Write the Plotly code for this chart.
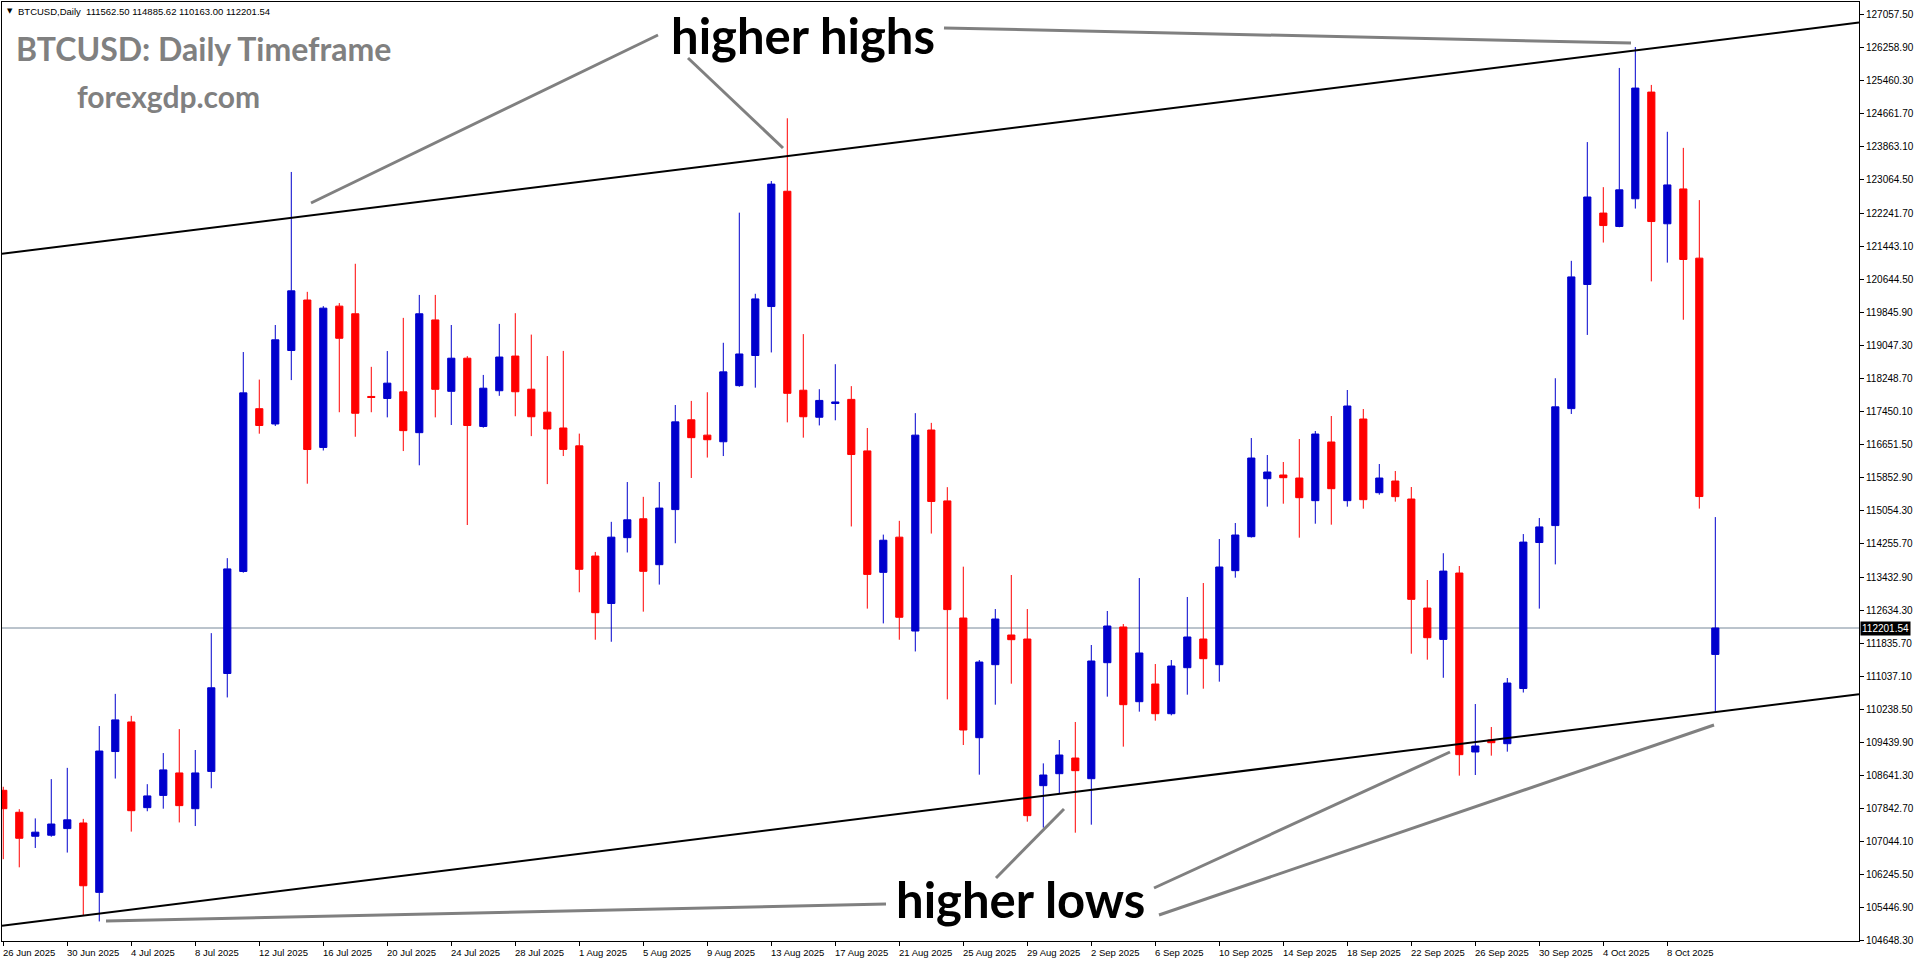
import plotly.graph_objects as go
import pandas as pd

# ---------------- data ----------------
start_date = "2025-06-26"

opens = [108274, 107742, 107162, 107187, 107347, 107483, 105804, 109212, 109928, 107854,
         108150, 108694, 107829, 108731, 111101, 113570, 117509, 117139, 118917, 120139,
         116571, 119991, 119806, 117805, 117756, 117917, 116929, 119657, 117929, 118731,
         117079, 117944, 118783, 117981, 117425, 117042, 116610, 113943, 112795, 114388,
         114845, 113734, 115067, 117240, 116869, 116709, 118067, 118796, 119981, 122771,
         117956, 117302, 117635, 117734, 116487, 113548, 114400, 112128, 116993, 115277,
         112443, 109547, 111314, 112032, 111935, 108386, 108676, 109055, 108555, 111362,
         112226, 110418, 110846, 110128, 111241, 111935, 111314, 113589, 114412, 115815,
         115904, 115831, 115283, 116703, 115283, 117259, 115476, 115759, 115323, 112685,
         111926, 113532, 109201, 109491, 109402, 110737, 114270, 114680, 117511, 120515,
         122243, 121919, 122589, 125171, 121984, 122827, 121152, 111562.50]
highs = [108360, 107817, 107594, 108545, 108817, 107582, 109829, 110607, 110076, 108422,
         109175, 109755, 109249, 112077, 113892, 118880, 118213, 119534, 123238, 120337,
         119991, 120065, 121016, 118522, 118904, 119707, 120262, 120262, 119534, 118781,
         118326, 119561, 119820, 119302, 118783, 118907, 116906, 114042, 114771, 115734,
         115376, 115734, 117598, 117697, 117907, 119104, 122253, 120290, 123018, 124537,
         119314, 117981, 118586, 118055, 117042, 114462, 114795, 117401, 117166, 115610,
         113686, 111427, 112661, 113484, 112661, 108926, 109491, 109927, 111790, 112613,
         112298, 113411, 111330, 111427, 112952, 113290, 114355, 114742, 116799, 116388,
         116219, 116775, 116969, 117332, 117961, 117501, 116170, 116001, 115614, 113363,
         114011, 113702, 110362, 109806, 110991, 114475, 114864, 118246, 121087, 123961,
         122870, 125755, 126262, 125344, 124210, 123821, 122557, 114885.62]
lows = [106607, 106410, 106878, 107150, 106767, 105248, 105100, 108558, 107274, 107767,
        107829, 107496, 107409, 108323, 110521, 113540, 116904, 117090, 118201, 115694,
        116497, 117423, 116830, 117423, 117299, 116484, 116139, 117299, 117114, 114694,
        117050, 117820, 117326, 116845, 115684, 116363, 113066, 111918, 111869, 114029,
        112597, 113252, 114252, 115832, 116326, 116363, 118040, 118018, 118870, 117178,
        116808, 117104, 117228, 114659, 112671, 112313, 111918, 111634, 114487, 110474,
        109370, 108652, 110346, 110854, 107515, 107369, 108200, 107248, 107442, 110540,
        109330, 110177, 109959, 110088, 110588, 110733, 110903, 113420, 114390, 115138,
        115210, 114387, 114726, 114702, 115138, 115089, 115428, 115259, 111580, 111435,
        110997, 108628, 108644, 109112, 109209, 110640, 112671, 113741, 117381, 119294,
        121530, 121900, 122352, 120590, 121044, 119661, 115091, 110163.00]
closes = [107829, 107113, 107261, 107458, 107559, 105964, 109224, 109978, 107780, 108138,
          108768, 107903, 108694, 110755, 113632, 117892, 117102, 119176, 120361, 116521,
          119942, 119213, 117398, 117781, 118127, 116978, 119806, 117978, 118731, 117102,
          118005, 118759, 117919, 117314, 117018, 116524, 113622, 112572, 114400, 114820,
          113573, 115104, 117190, 116808, 116758, 118400, 118833, 120166, 122944, 117881,
          117314, 117709, 117672, 116400, 113499, 114326, 112461, 116869, 115264, 112647,
          109733, 111378, 112419, 111919, 107660, 108644, 109128, 108749, 111403, 112250,
          110346, 111597, 110128, 111282, 111984, 111459, 113678, 114452, 116315, 115977,
          115839, 115355, 116896, 115573, 117574, 115307, 115831, 115380, 112895, 111967,
          113579, 109136, 109346, 109426, 110870, 114281, 114648, 117554, 120698, 122632,
          121941, 122805, 125268, 122038, 122924, 121120, 115383, 112201.54]

last_price = 112201.54
header_text = "BTCUSD,Daily  111562.50 114885.62 110163.00 112201.54"

y_tick_values = [127057.50, 126258.90, 125460.30, 124661.70, 123863.10, 123064.50,
                 122241.70, 121443.10, 120644.50, 119845.90, 119047.30, 118248.70,
                 117450.10, 116651.50, 115852.90, 115054.30, 114255.70, 113432.90,
                 112634.30, 111835.70, 111037.10, 110238.50, 109439.90, 108641.30,
                 107842.70, 107044.10, 106245.50, 105446.90, 104648.30]

x_tick_labels = ["26 Jun 2025", "30 Jun 2025", "4 Jul 2025", "8 Jul 2025", "12 Jul 2025",
                 "16 Jul 2025", "20 Jul 2025", "24 Jul 2025", "28 Jul 2025", "1 Aug 2025",
                 "5 Aug 2025", "9 Aug 2025", "13 Aug 2025", "17 Aug 2025", "21 Aug 2025",
                 "25 Aug 2025", "29 Aug 2025", "2 Sep 2025", "6 Sep 2025", "10 Sep 2025",
                 "14 Sep 2025", "18 Sep 2025", "22 Sep 2025", "26 Sep 2025", "30 Sep 2025",
                 "4 Oct 2025", "8 Oct 2025"]

# channel trend lines: (day offset from start, price)
upper_channel_days = [-0.08, 115.98]
upper_channel_prices = [121258, 126853]
lower_channel_days = [-0.08, 115.98]
lower_channel_prices = [104996, 110600]

# ---------------- figure ----------------
W, H = 1916, 964
ML, MR, MT, MB = 2, 57, 2, 23
PW, PH = W - ML - MR, H - MT - MB

def P(X, Y):
    """figure pixel -> paper coords"""
    return (X - ML) / PW, (H - MB - Y) / PH

t0 = pd.Timestamp(start_date)
dates = pd.date_range(start_date, periods=len(opens), freq="D")
day = pd.Timedelta(days=1)

fig = go.Figure()
fig.add_trace(go.Candlestick(
    x=dates, open=opens, high=highs, low=lows, close=closes,
    increasing=dict(line=dict(color="#0000CD", width=1), fillcolor="#0000CD"),
    decreasing=dict(line=dict(color="#FF0000", width=1), fillcolor="#FF0000"),
    hoverinfo="skip", showlegend=False,
))

shapes = []
# current price line
shapes.append(dict(type="line", xref="paper", yref="y", x0=0, x1=1,
                   y0=last_price, y1=last_price, line=dict(color="#778899", width=1),
                   layer="below"))
# channel lines
for d, p in ((upper_channel_days, upper_channel_prices), (lower_channel_days, lower_channel_prices)):
    shapes.append(dict(type="line", xref="x", yref="y",
                       x0=t0 + d[0] * day, x1=t0 + d[1] * day, y0=p[0], y1=p[1],
                       line=dict(color="black", width=2)))
# grey pointer lines
pointers = [((658, 35), (311, 203)), ((688, 58), (783, 148)), ((944, 28), (1631, 43)),
            ((886, 904), (106, 921)), ((996, 878), (1064, 809)),
            ((1154, 888), (1450, 752)), ((1159, 915), (1714, 725))]
for a, b in pointers:
    xa, ya = P(*a)
    xb, yb = P(*b)
    shapes.append(dict(type="line", xref="paper", yref="paper", x0=xa, y0=ya, x1=xb, y1=yb,
                       line=dict(color="#808080", width=3)))

annotations = []
def text_at(X, Y, txt, size, color, family, bold=False, xanchor="center"):
    xp, yp = P(X, Y)
    annotations.append(dict(xref="paper", yref="paper", x=xp, y=yp, text=(f"<b>{txt}</b>" if bold else txt),
                            showarrow=False, xanchor=xanchor, yanchor="middle",
                            font=dict(size=size, color=color, family=family)))

big_font = "Lato, 'Open Sans', sans-serif"
text_at(803, 35, "higher highs", 49, "black", big_font, bold=True)
text_at(1020, 899, "higher lows", 49, "black", big_font, bold=True)
text_at(203, 49, "BTCUSD: Daily Timeframe", 32, "#808080", big_font, bold=True)
text_at(168, 96, "forexgdp.com", 30, "#808080", big_font, bold=True)
text_at(5, 11, "▼", 7, "black", "DejaVu Sans", xanchor="left")
text_at(16, 11, header_text, 9.5, "black", "Liberation Sans", xanchor="left")

# x tick labels (left aligned at the tick as in the reference)
for lab in x_tick_labels:
    annotations.append(dict(xref="x", yref="paper", x=pd.Timestamp(lab), y=0,
                            text=lab, showarrow=False, xanchor="left", yanchor="top",
                            xshift=-2, yshift=-4,
                            font=dict(size=9.5, color="black", family="Liberation Sans")))
# last price box
annotations.append(dict(xref="paper", yref="y", x=1, y=last_price, text=f"{last_price:.2f}",
                        showarrow=False, xanchor="left", yanchor="middle", xshift=1,
                        bgcolor="black", borderpad=1,
                        font=dict(size=10, color="white", family="Liberation Sans")))

fig.update_layout(
    width=W, height=H, margin=dict(l=ML, r=MR, t=MT, b=MB),
    paper_bgcolor="white", plot_bgcolor="white",
    shapes=shapes, annotations=annotations, showlegend=False,
    boxgap=0.36,
    xaxis=dict(type="date", range=[t0 - 0.08 * day, t0 + 115.98 * day],
               rangeslider=dict(visible=False), showgrid=False, zeroline=False,
               showline=True, linecolor="black", linewidth=1, mirror=True,
               ticks="outside", ticklen=4, tickcolor="black",
               tickvals=[pd.Timestamp(l) for l in x_tick_labels], showticklabels=False),
    yaxis=dict(side="right", range=[104627, 127351], showgrid=False, zeroline=False,
               showline=True, linecolor="black", linewidth=1, mirror=True,
               ticks="outside", ticklen=4, tickcolor="black",
               tickvals=y_tick_values, ticktext=[f"{v:.2f}" for v in y_tick_values],
               tickfont=dict(size=10, color="black", family="Liberation Sans")),
)

fig.write_html("out.html", config={"displayModeBar": False},
               post_script="document.body.style.margin='0';document.body.style.overflow='hidden';")
